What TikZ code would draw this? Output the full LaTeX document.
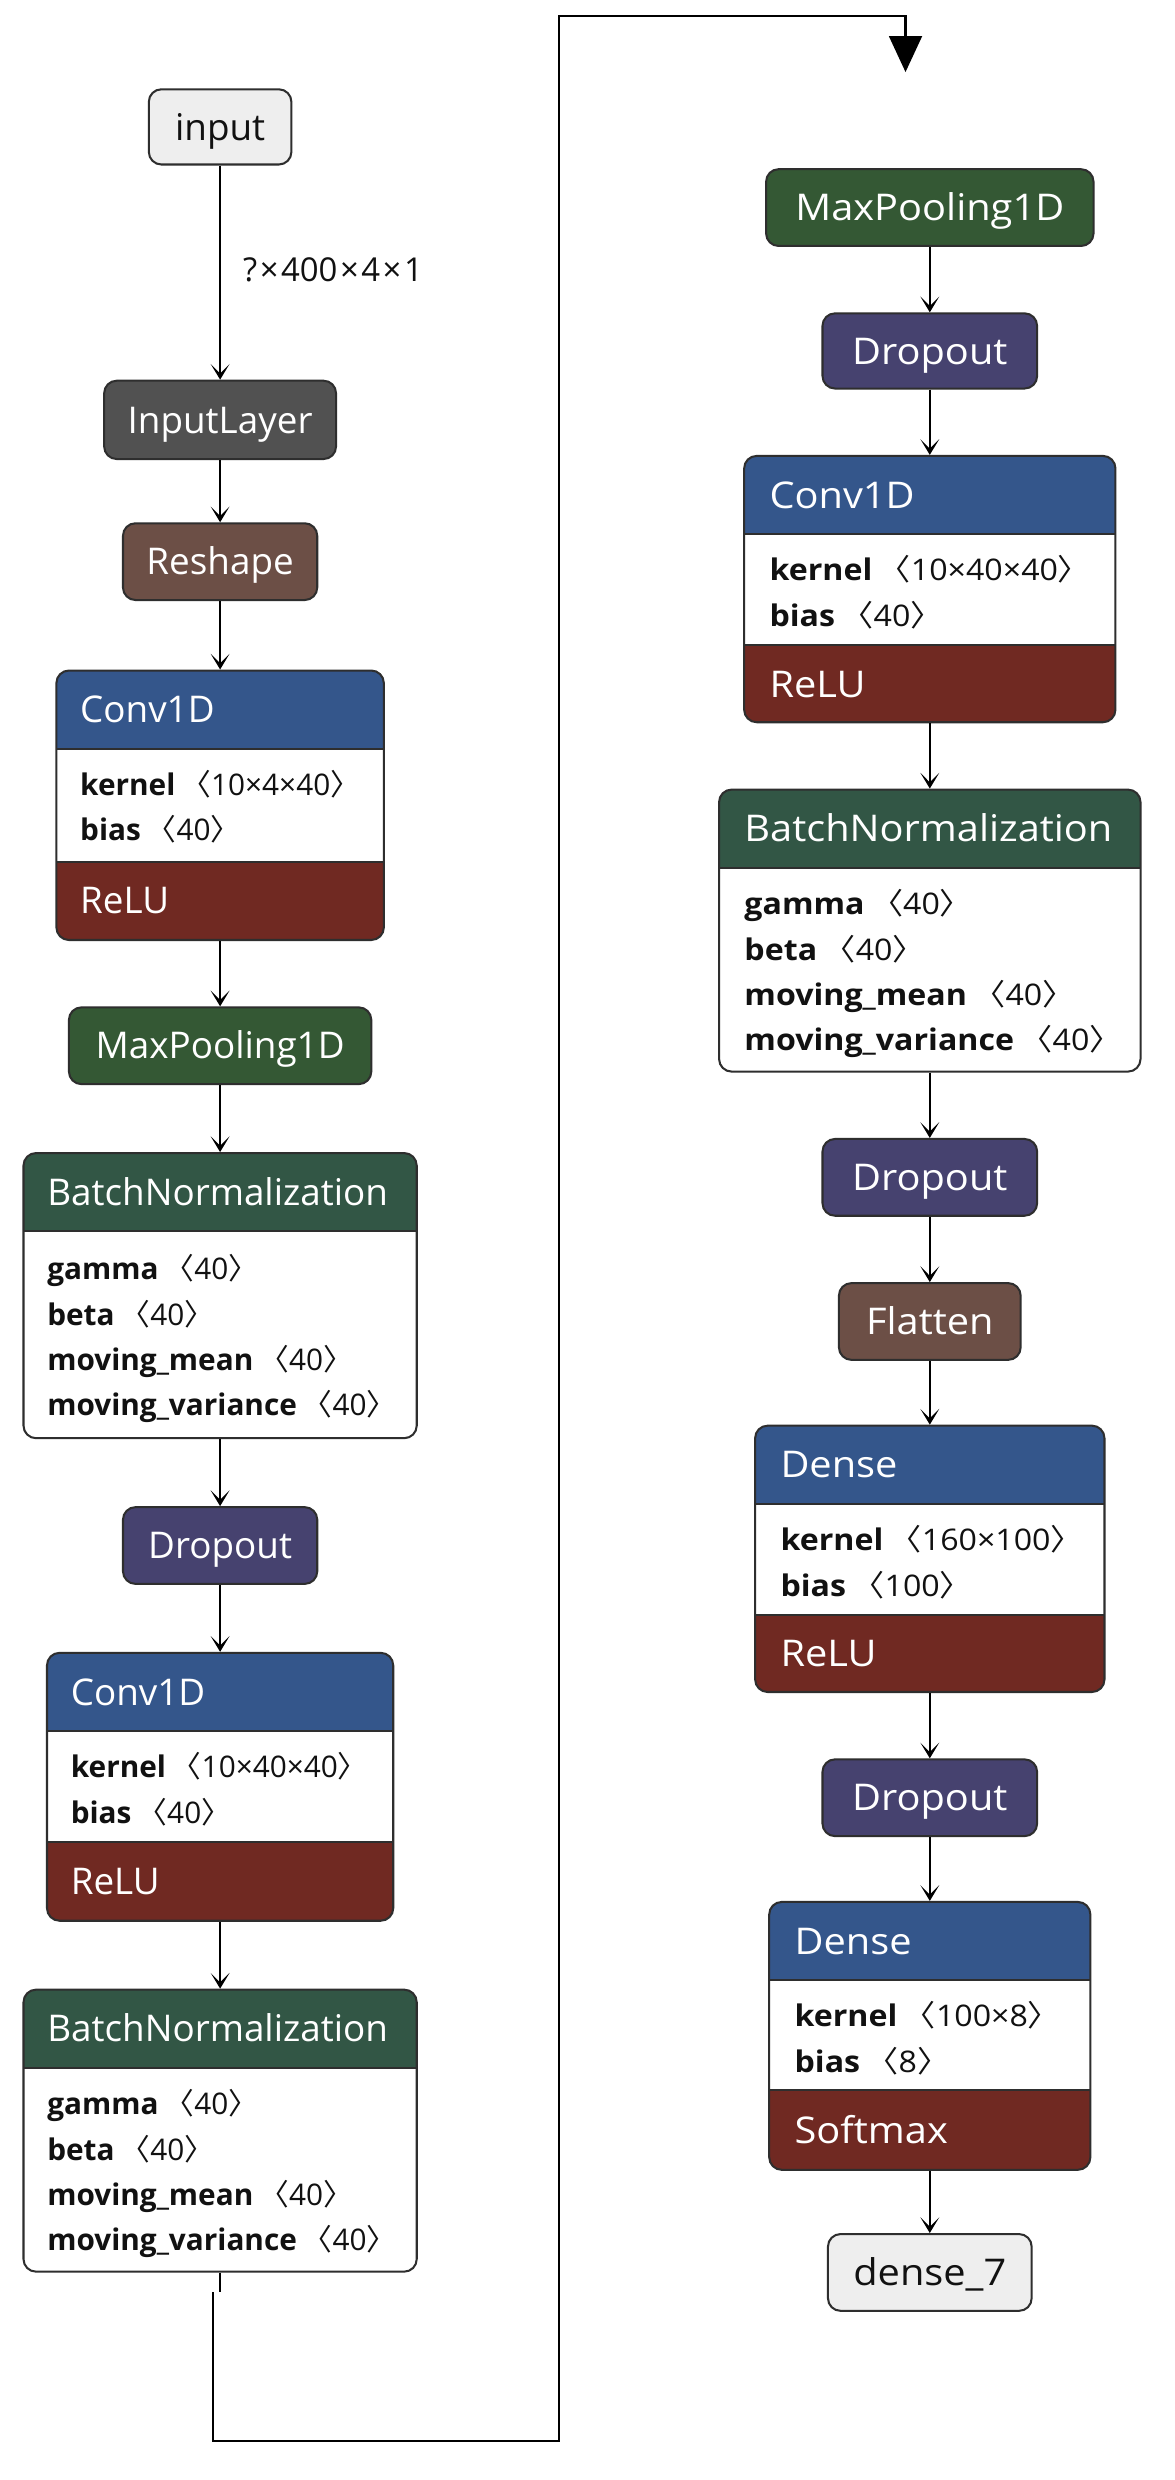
\documentclass[tikz,border=0pt]{standalone}
\usepackage{fontspec}
\usepackage{graphicx}
\setmainfont{Open Sans}
\newfontfamily\cjk{Noto Sans CJK KR}
\usetikzlibrary{arrows.meta}
\definecolor{cBorder}{HTML}{2E2E2E}
\definecolor{cText}{HTML}{111111}
\definecolor{cIn}{HTML}{EEEEEE}
\definecolor{cIL}{HTML}{515151}
\definecolor{cRes}{HTML}{6C4F46}
\definecolor{cConv}{HTML}{34568B}
\definecolor{cAct}{HTML}{702922}
\definecolor{cPool}{HTML}{345834}
\definecolor{cBN}{HTML}{325645}
\definecolor{cDrop}{HTML}{46426F}
\newcommand\hfont{\fontsize{23.5}{27}\selectfont}
\newcommand\pfont{\fontsize{19}{23}\selectfont}
\newcommand\lfont{\fontsize{21}{25}\selectfont}
\newcommand\hsf{1}
\newcommand\hs[1]{\scalebox{\hsf}[1]{#1}}
\newcommand\lbk{{\cjk 〈}}
\newcommand\rbk{{\cjk 〉}}
\newcommand\tms{\hspace{1.6pt}×\hspace{1.6pt}}
\newcommand\prm[2]{\hs{\textbf{#1}\hspace{0.2em}\lbk#2\rbk}}
\tikzset{
  conn/.style={draw=black, line width=1.5pt, -{Stealth[length=10pt,width=12pt,inset=6pt]}},
  loopline/.style={draw=black, line width=1.4pt},
  frame/.style={draw=cBorder, line width=1.3pt},
  sbox/.style={draw=cBorder, line width=1.3pt, rounded corners=8pt, inner sep=0pt,
    text height=16.8pt, text depth=0pt, font=\hfont, text=white},
  cboxnode/.style={draw=cBorder, line width=1.3pt, rounded corners=8pt, inner sep=0pt, outer sep=0.65pt},
  htext/.style={anchor=west, inner sep=0pt, text height=16.8pt, text depth=0pt, font=\hfont, text=white},
  ptext/.style={anchor=west, inner sep=0pt, text height=13.6pt, text depth=0pt, font=\pfont, text=cText},
  lbl/.style={anchor=west, inner sep=0pt, text height=15pt, text depth=0pt, font=\lfont, text=cText},
}
% three-part box: name, x1, y1, x2, y2, header bottom, footer top, header colour, footer colour
\newcommand\cframe[9]{%
  \begin{scope}
    \clip[rounded corners=8pt] (#2,#3) rectangle (#4,#5);
    \fill[white] (#2,#3) rectangle (#4,#5);
    \fill[#8] (#2,#3) rectangle (#4,#6);
    \fill[#9] (#2,#7) rectangle (#4,#5);
  \end{scope}
  \draw[frame] (#2,#6) -- (#4,#6) (#2,#7) -- (#4,#7);
  \node[cboxnode, minimum width={(#4-#2)*1pt}, minimum height={(#5-#3)*1pt}] (#1) at ({(#2+#4)/2},{(#3+#5)/2}) {};
}
% two-part box: name, x1, y1, x2, y2, header bottom, header colour
\newcommand\bframe[7]{%
  \begin{scope}
    \clip[rounded corners=8pt] (#2,#3) rectangle (#4,#5);
    \fill[white] (#2,#3) rectangle (#4,#5);
    \fill[#7] (#2,#3) rectangle (#4,#6);
  \end{scope}
  \draw[frame] (#2,#6) -- (#4,#6);
  \node[cboxnode, minimum width={(#4-#2)*1pt}, minimum height={(#5-#3)*1pt}] (#1) at ({(#2+#4)/2},{(#3+#5)/2}) {};
}
\begin{document}
\begin{tikzpicture}[x=1pt,y=-1pt]
\useasboundingbox[fill=white] (0,0) rectangle (750,1583);

%================ LEFT COLUMN =================
\node[sbox, fill=cIn, text=cText, minimum width=91pt, minimum height=48pt] (in) at (140.5,81) {input};
\node[sbox, fill=cIL, minimum width=148pt, minimum height=50pt] (il) at (140.5,268) {InputLayer};
\node[sbox, fill=cRes, minimum width=124pt, minimum height=49pt] (res) at (140.5,358.5) {Reshape};

\cframe{conv1}{36}{428}{245}{600}{478}{550}{cConv}{cAct}
\node[htext] (conv1h) at (51,453) {Conv1D};
\node[ptext] (conv1k) at (51,501) {\prm{kernel}{10×4×40}};
\node[ptext] (conv1b) at (51,530) {\prm{bias}{40}};
\node[htext] (conv1a) at (51,575) {ReLU};

\node[sbox, fill=cPool, minimum width=193pt, minimum height=49pt] (pool1) at (140.5,667.5) {MaxPooling1D};

\bframe{bn1}{15}{736}{266}{918}{786}{cBN}
\node[htext] (bn1h) at (30,761) {BatchNormalization};
\node[ptext] (bn1g) at (30,810) {\prm{gamma}{40}};
\node[ptext] (bn1b) at (30,839) {\prm{beta}{40}};
\node[ptext] (bn1m) at (30,868) {\prm{moving\_mean}{40}};
\node[ptext] (bn1v) at (30,897) {\prm{moving\_variance}{40}};

\node[sbox, fill=cDrop, minimum width=124pt, minimum height=49pt] (drop1) at (140.5,986.5) {Dropout};

\cframe{conv2}{30}{1055}{251}{1226}{1105}{1176}{cConv}{cAct}
\node[htext] (conv2h) at (45,1080) {Conv1D};
\node[ptext] (conv2k) at (45,1128) {\prm{kernel}{10×40×40}};
\node[ptext] (conv2b) at (45,1157) {\prm{bias}{40}};
\node[htext] (conv2a) at (45,1201) {ReLU};

\bframe{bn2}{15}{1270}{266}{1450}{1320}{cBN}
\node[htext] (bn2h) at (30,1295) {BatchNormalization};
\node[ptext] (bn2g) at (30,1343) {\prm{gamma}{40}};
\node[ptext] (bn2b) at (30,1372) {\prm{beta}{40}};
\node[ptext] (bn2m) at (30,1401) {\prm{moving\_mean}{40}};
\node[ptext] (bn2v) at (30,1430) {\prm{moving\_variance}{40}};

\node[lbl] (shape) at (155,172) {?\tms400\tms4\tms1};

\draw[conn] (in) -- (il);
\draw[conn] (il) -- (res);
\draw[conn] (res) -- (conv1);
\draw[conn] (conv1) -- (pool1);
\draw[conn] (pool1) -- (bn1);
\draw[conn] (bn1) -- (drop1);
\draw[conn] (drop1) -- (conv2);
\draw[conn] (conv2) -- (bn2);

%================ LOOP CONNECTOR =================
\coordinate (t1) at (140.5,1463);
\coordinate (l0) at (136,1463);
\coordinate (l1) at (136,1558);
\coordinate (l2) at (357,1558);
\coordinate (l3) at (357,10);
\coordinate (l4) at (578,10);
\coordinate (tip) at (578,46);
\draw[loopline] (bn2) -- (t1);
\draw[loopline, -{Triangle[length=23pt,width=21pt]}] (l0) -- (l1) -- (l2) -- (l3) -- (l4) -- (tip);

%================ RIGHT COLUMN =================
\renewcommand\hsf{1.08}
\node[sbox, fill=cPool, minimum width=209pt, minimum height=49pt] (rpool) at (593.5,132.5) {\hs{MaxPooling1D}};
\node[sbox, fill=cDrop, minimum width=137pt, minimum height=48pt] (rdrop1) at (593.5,224) {\hs{Dropout}};

\cframe{rconv}{475}{291}{712}{461}{341}{412}{cConv}{cAct}
\node[htext] (rconvh) at (491,316) {\hs{Conv1D}};
\node[ptext] (rconvk) at (491,364) {\prm{kernel}{10×40×40}};
\node[ptext] (rconvb) at (491,393) {\prm{bias}{40}};
\node[htext] (rconva) at (491,436.5) {\hs{ReLU}};

\bframe{rbn}{459}{504}{728}{684}{554}{cBN}
\node[htext] (rbnh) at (475,529) {\hs{BatchNormalization}};
\node[ptext] (rbng) at (475,577) {\prm{gamma}{40}};
\node[ptext] (rbnb) at (475,606) {\prm{beta}{40}};
\node[ptext] (rbnm) at (475,635) {\prm{moving\_mean}{40}};
\node[ptext] (rbnv) at (475,664) {\prm{moving\_variance}{40}};

\node[sbox, fill=cDrop, minimum width=137pt, minimum height=49pt] (rdrop2) at (593.5,751.5) {\hs{Dropout}};
\node[sbox, fill=cRes, minimum width=116pt, minimum height=49pt] (flat) at (593.5,843.5) {\hs{Flatten}};

\cframe{dense1}{482}{910}{705}{1080}{960}{1031}{cConv}{cAct}
\node[htext] (dense1h) at (498,935) {\hs{Dense}};
\node[ptext] (dense1k) at (498,983) {\prm{kernel}{160×100}};
\node[ptext] (dense1b) at (498,1012) {\prm{bias}{100}};
\node[htext] (dense1a) at (498,1055.5) {\hs{ReLU}};

\node[sbox, fill=cDrop, minimum width=137pt, minimum height=49pt] (rdrop3) at (593.5,1147.5) {\hs{Dropout}};

\cframe{dense2}{491}{1214}{696}{1385}{1264}{1334}{cConv}{cAct}
\node[htext] (dense2h) at (507,1239) {\hs{Dense}};
\node[ptext] (dense2k) at (507,1287) {\prm{kernel}{100×8}};
\node[ptext] (dense2b) at (507,1316) {\prm{bias}{8}};
\node[htext] (dense2a) at (507,1359.5) {\hs{Softmax}};

\node[sbox, fill=cIn, text=cText, minimum width=130pt, minimum height=49pt] (out) at (593.5,1450.5) {\hs{dense\_7}};

\draw[conn] (rpool) -- (rdrop1);
\draw[conn] (rdrop1) -- (rconv);
\draw[conn] (rconv) -- (rbn);
\draw[conn] (rbn) -- (rdrop2);
\draw[conn] (rdrop2) -- (flat);
\draw[conn] (flat) -- (dense1);
\draw[conn] (dense1) -- (rdrop3);
\draw[conn] (rdrop3) -- (dense2);
\draw[conn] (dense2) -- (out);
\end{tikzpicture}
\end{document}
